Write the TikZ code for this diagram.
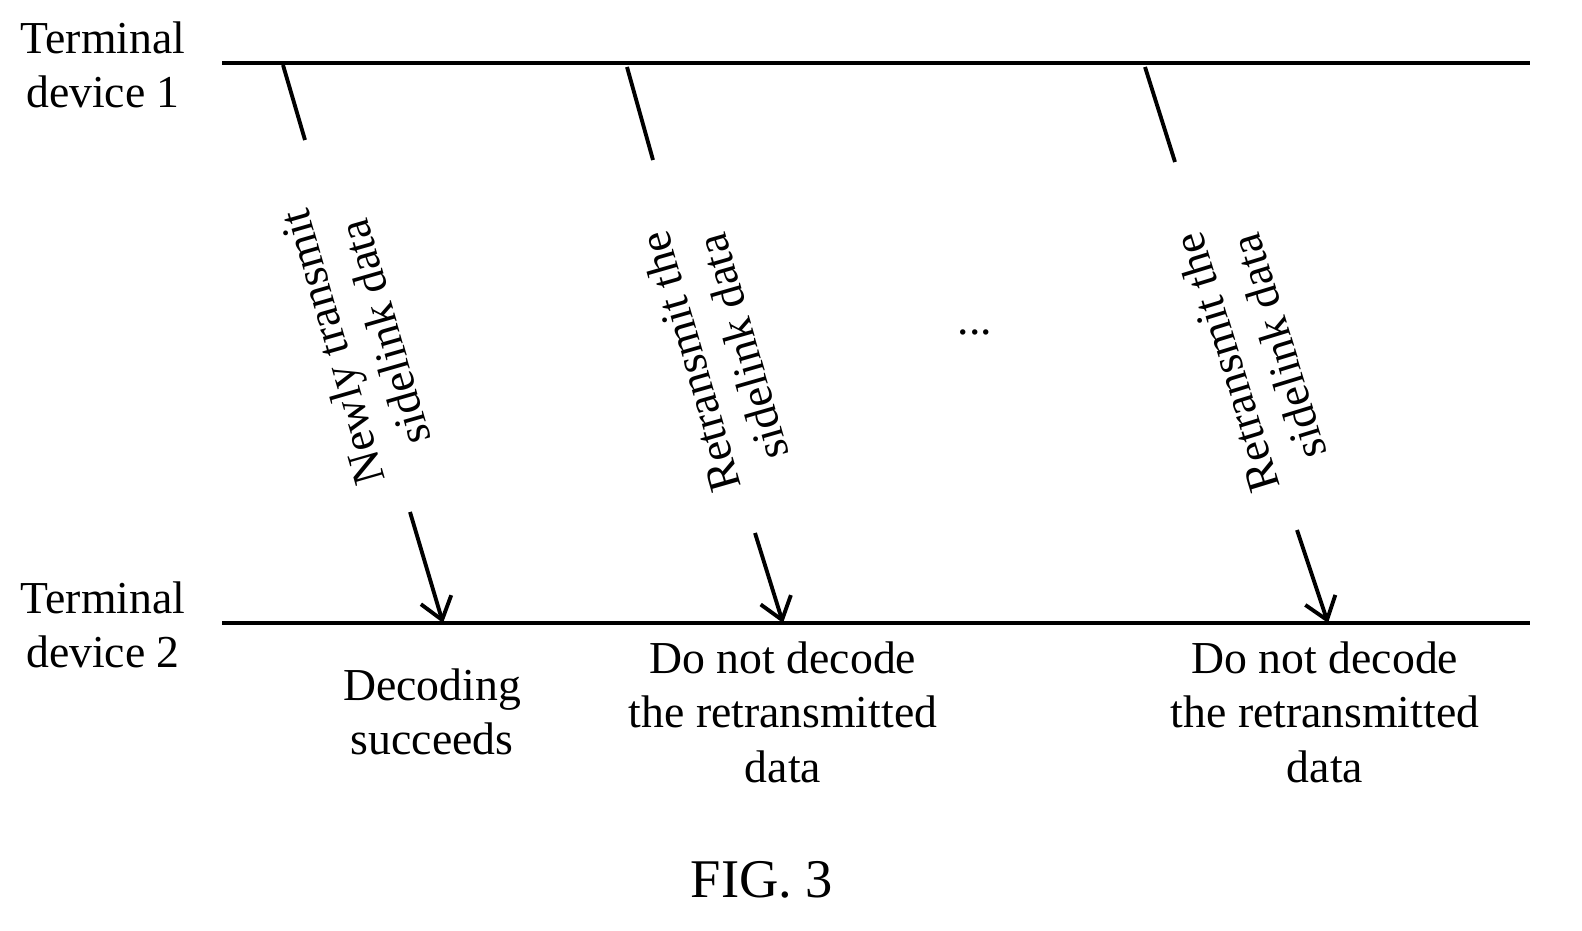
\documentclass[tikz,border=0pt]{standalone}
\usepackage{fontspec}
\setmainfont{Liberation Serif}
\usetikzlibrary{arrows.meta}
\begin{document}
\begin{tikzpicture}[x=0.01cm,y=-0.01cm,
  lbl/.style={font=\fontsize{13pt}{15.5pt}\selectfont,align=center,inner sep=0pt},
  ln/.style={line width=1.1pt},
  arr/.style={line width=1.1pt,-{Straight Barb[length=6pt,width=9pt]}}]
\useasboundingbox (0,0) rectangle (1582,930);
\node[lbl] (t1) at (103,65) {Terminal\\device 1};
\node[lbl] (t2) at (103,625) {Terminal\\device 2};
\coordinate (l1a) at (222,63); \coordinate (l1b) at (1530,63);
\coordinate (l2a) at (222,623); \coordinate (l2b) at (1530,623);
\draw[ln] (l1a) -- (l1b);
\draw[ln] (l2a) -- (l2b);
% arrow 1
\coordinate (a1) at (283,65); \coordinate (a1e) at (305,140);
\coordinate (b1) at (410,512); \coordinate (b1e) at (443,623);
\draw[ln] (a1) -- (a1e); \draw[arr] (b1) -- (b1e);
\node[lbl,rotate=106] (m1) at (358,340) {Newly transmit\\sidelink data};
% arrow 2
\coordinate (a2) at (627,67); \coordinate (a2e) at (653,160);
\coordinate (b2) at (755,533); \coordinate (b2e) at (783,623);
\draw[ln] (a2) -- (a2e); \draw[arr] (b2) -- (b2e);
\node[lbl,rotate=106] (m2) at (716,355) {Retransmit the\\sidelink data};
% arrow 3
\coordinate (a3) at (1145,67); \coordinate (a3e) at (1175,162);
\coordinate (b3) at (1297,530); \coordinate (b3e) at (1328,623);
\draw[ln] (a3) -- (a3e); \draw[arr] (b3) -- (b3e);
\node[lbl,rotate=107] (m3) at (1252,355) {Retransmit the\\sidelink data};
\node[lbl] (dots) at (975,332) {...};
\node[lbl] (r1) at (432,712) {Decoding\\succeeds};
\node[lbl] (r2) at (783,712) {Do not decode\\the retransmitted\\data};
\node[lbl] (r3) at (1325,712) {Do not decode\\the retransmitted\\data};
\node[lbl,font=\fontsize{15.5pt}{18pt}\selectfont] (fig) at (762,880) {FIG. 3};
\end{tikzpicture}
\end{document}
